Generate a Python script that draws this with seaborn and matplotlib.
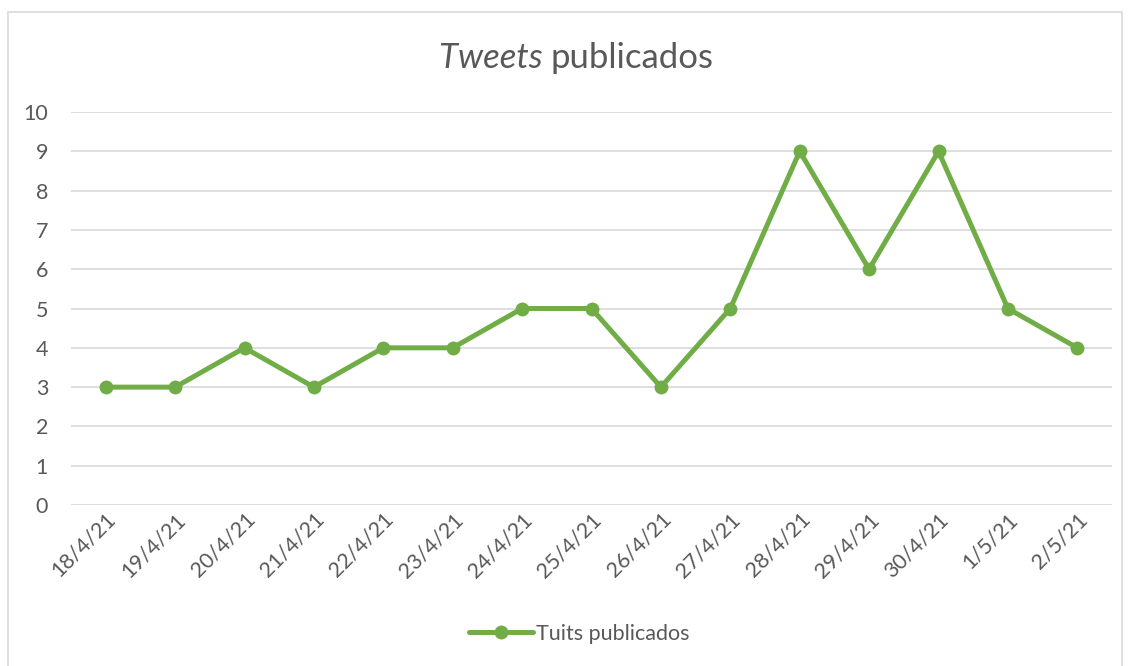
import pandas as pd
import seaborn as sns
import matplotlib.pyplot as plt
from matplotlib.patches import Rectangle

fechas = ["18/4/21", "19/4/21", "20/4/21", "21/4/21", "22/4/21", "23/4/21",
          "24/4/21", "25/4/21", "26/4/21", "27/4/21", "28/4/21", "29/4/21",
          "30/4/21", "1/5/21", "2/5/21"]
tuits = [3, 3, 4, 3, 4, 4, 5, 5, 3, 5, 9, 6, 9, 5, 4]

df = pd.DataFrame({"fecha": fechas, "tuits": tuits})

sns.set_theme(style="white")
plt.rcParams['font.family'] = ['Lato', 'DejaVu Sans']
gris = "#595959"
verde = "#70AD47"

fig = plt.figure(figsize=(11.31, 6.66), dpi=100)
ax = fig.add_axes([0.0628, 0.2417, 0.9204, 0.5901])

sns.lineplot(data=df, x="fecha", y="tuits", color=verde, linewidth=3.6,
             marker="o", markersize=10, markeredgewidth=0,
             label="Tuits publicados", ax=ax, sort=False)

ax.set_xlim(-0.5, len(fechas) - 0.5)
ax.set_ylim(0, 10)
ax.set_yticks(range(0, 11))
ax.grid(axis="y", color="#D9D9D9", linewidth=1.2)
ax.set_axisbelow(True)
for s in ax.spines.values():
    s.set_visible(False)
ax.set_xlabel("")
ax.set_ylabel("")
ax.tick_params(axis="y", labelsize=15.5, labelcolor=gris, length=0, pad=16.5)
ax.tick_params(axis="x", labelsize=15.5, labelcolor=gris, length=0, pad=3)
plt.setp(ax.get_xticklabels(), rotation=45, ha="right", rotation_mode="anchor")

ax.legend(loc="center", frameon=False, fontsize=15.5, labelcolor=gris,
          handlelength=3.0, handletextpad=0.1)
ax.get_legend().set_bbox_to_anchor((0.488, (1 - 634 / 666 - 0.2417) / 0.5901),
                                   transform=ax.transAxes)

# title: "Tweets" in italics, rest upright, centred together
fig.canvas.draw()
r = fig.canvas.get_renderer()
ta = fig.text(0, 0.913, "Tweets ", fontsize=25, color=gris, va="center", style="italic")
tb = fig.text(0, 0.913, "publicados", fontsize=25, color=gris, va="center")
w1 = ta.get_window_extent(r).width
w2 = tb.get_window_extent(r).width
x0 = (576 - (w1 + w2) / 2) / 1131
ta.set_x(x0)
tb.set_x(x0 + w1 / 1131)

fig.patches.append(Rectangle((8 / 1131, -0.01), 1114 / 1131, 1 - 12 / 666 + 0.01,
                             transform=fig.transFigure, fill=False,
                             edgecolor="#D9D9D9", linewidth=1.2))

plt.savefig("out.png", dpi=100)
